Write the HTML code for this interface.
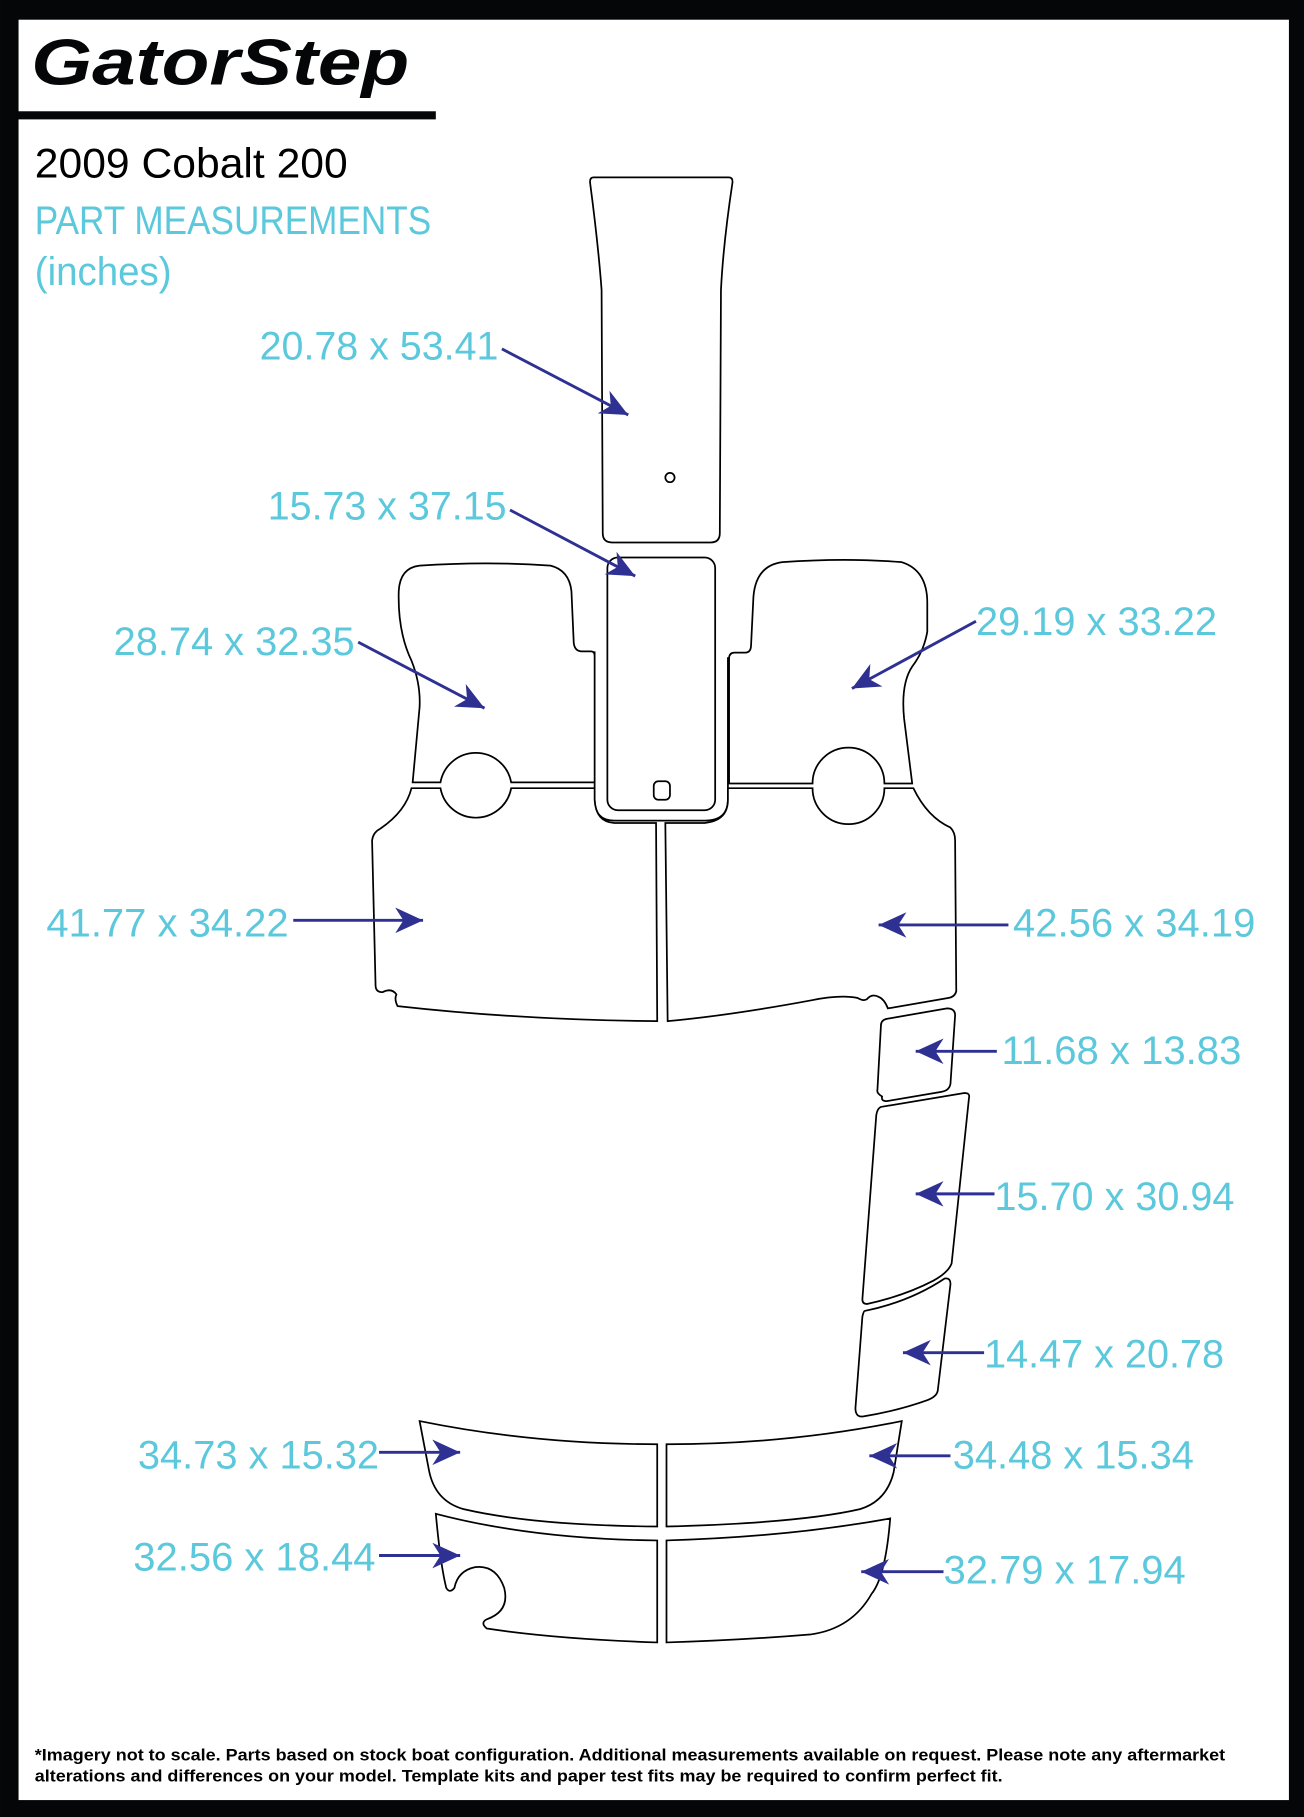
<!DOCTYPE html>
<html><head><meta charset="utf-8"><style>
html,body{margin:0;padding:0;background:#fff}
svg{display:block}
.p{fill:#fff;stroke:#000;stroke-width:1.5}
.t{font-family:"Liberation Sans",sans-serif;fill:#5bc8dc;font-size:34px}
.a{stroke:#2e3192;stroke-width:2.5;fill:none}
</style></head><body>
<svg width="1304" height="1817" viewBox="0 0 1125 1567.6" xmlns="http://www.w3.org/2000/svg">
<defs><marker id="h" markerUnits="userSpaceOnUse" markerWidth="26" markerHeight="22" refX="24" refY="11" orient="auto"><path d="M0,0 L24,11 L0,22 L7,11 z" fill="#2e3192"/></marker></defs>
<rect x="0" y="0" width="1125" height="1567.6" fill="#050607"/>
<rect x="16" y="17" width="1096" height="1536" fill="#fff"/>
<rect x="14" y="96" width="362" height="7" fill="#050607"/>
<text x="27" y="73" font-family="Liberation Sans,sans-serif" font-weight="bold" font-style="italic" font-size="56" textLength="326" lengthAdjust="spacingAndGlyphs" fill="#050607">GatorStep</text>
<text x="30" y="153" font-family="Liberation Sans,sans-serif" font-size="36" fill="#000" textLength="270" lengthAdjust="spacingAndGlyphs">2009 Cobalt 200</text>
<text x="30" y="202" class="t" textLength="342" lengthAdjust="spacingAndGlyphs">PART MEASUREMENTS</text>
<text x="30" y="246" class="t" textLength="118" lengthAdjust="spacingAndGlyphs">(inches)</text>

<!-- parts -->
<path class="p" d="M512,153 L629,153 Q632,153 632,157 Q624,210 622,250 L621,460 Q621,468 613,468 L528,468 Q520,468 520,460 L519,250 Q516,210 509,157 Q509,153 512,153 z"/>
<circle cx="578" cy="412" r="4" fill="none" stroke="#000" stroke-width="1.5"/>
<path class="p" d="M513,562 L513,690 Q513,708 530,708 L608,708 Q628,708 628,690 L628,567"/>
<rect class="p" x="524" y="481" width="93" height="218" rx="9"/>
<rect x="564" y="674" width="14" height="16" rx="4" fill="none" stroke="#000" stroke-width="1.5"/>
<path class="p" d="M356,675 L362,610 Q363,590 355,570 Q343,545 344,510 Q345,490 362,488 Q420,484 475,488 Q491,492 493,510 L495,555 Q496,562 502,562 L510,562 Q513,562 513,566 L513,675 L441,675 A31,31 0 0 0 380,675 z"/>
<path class="p" d="M629,676 L629,568 Q629,563 634,563 L643,563 Q648,563 648,556 L650,515 Q652,488 675,485 Q730,481 778,485 Q800,492 800,520 L800,545 Q797,562 787,575 Q777,590 780,620 L787,676 L763,676 A31,31 0 0 0 701,676 z"/>
<path class="p" d="M355,680 L380,680 A31,31 0 0 0 441,680 L513,680 L513,690 Q514,709 530,710 L566,710 L567,881 Q450,880 343,868 Q340,862 342,858 Q338,852 330,856 Q324,856 324,850 L321,725 Q322,718 328,715 Q350,700 355,680 z"/>
<path class="p" d="M574,710 L608,710 Q628,708 628,690 L628,680 L701,680 A31,31 0 0 0 763,680 L788,680 Q800,705 820,714 Q824,718 824,725 L825,855 Q824,860 818,861 L766,870 Q763,862 758,860 Q752,857 748,862 Q745,864 740,861 Q725,858 700,863 Q630,876 576,881 z"/>
<path class="p" d="M765,879 L817,870 Q824,870 824,876 L820,935 Q819,941 812,942 L765,950 Q760,950 761,946 Q756,943 757,940 L760,885 Q760,880 765,879 z"/>
<path class="p" d="M760,955 L832,943 Q837,943 836,947 L821,1090 Q818,1098 805,1105 Q780,1118 748,1125 Q744,1125 744,1121 L756,962 Q757,956 760,955 z"/>
<path class="p" d="M746,1131 Q785,1123 815,1103 Q820,1102 820,1108 L809,1200 Q808,1205 800,1208 Q775,1217 745,1222 Q738,1223 738,1215 L744,1136 Q745,1131 746,1131 z"/>
<path class="p" d="M362,1226 Q460,1246 567,1246 L567,1317 Q460,1316 400,1302 Q375,1295 370,1268 z"/>
<path class="p" d="M575,1246 Q680,1246 778,1226 L771,1270 Q765,1295 742,1302 Q690,1314 575,1317 z"/>
<path class="p" d="M376,1306 Q460,1328 567,1329 L567,1417 Q480,1414 420,1405 Q414,1400 420,1397 Q440,1390 435,1370 Q428,1350 410,1352 Q395,1355 392,1370 Q388,1375 385,1370 Q380,1350 376,1306 z"/>
<path class="p" d="M575,1329 Q680,1326 768,1310 Q764,1360 752,1375 Q735,1405 700,1410 Q640,1415 575,1417 z"/>

<!-- labels & arrows -->
<text class="t" x="430" y="310" text-anchor="end" textLength="206" lengthAdjust="spacingAndGlyphs">20.78 x 53.41</text>
<line class="a" x1="433" y1="301" x2="542" y2="358" marker-end="url(#h)"/>
<text class="t" x="437" y="448" text-anchor="end" textLength="206" lengthAdjust="spacingAndGlyphs">15.73 x 37.15</text>
<line class="a" x1="440" y1="440" x2="548" y2="497" marker-end="url(#h)"/>
<text class="t" x="306" y="565" text-anchor="end" textLength="208" lengthAdjust="spacingAndGlyphs">28.74 x 32.35</text>
<line class="a" x1="309" y1="554" x2="418" y2="611" marker-end="url(#h)"/>
<text class="t" x="842" y="548" textLength="208" lengthAdjust="spacingAndGlyphs">29.19 x 33.22</text>
<line class="a" x1="842" y1="536" x2="735" y2="594" marker-end="url(#h)"/>
<text class="t" x="40" y="808" textLength="209" lengthAdjust="spacingAndGlyphs">41.77 x 34.22</text>
<line class="a" x1="253" y1="794" x2="365" y2="794" marker-end="url(#h)"/>
<text class="t" x="874" y="808" textLength="209" lengthAdjust="spacingAndGlyphs">42.56 x 34.19</text>
<line class="a" x1="870" y1="798" x2="758" y2="798" marker-end="url(#h)"/>
<text class="t" x="864" y="918" textLength="207" lengthAdjust="spacingAndGlyphs">11.68 x 13.83</text>
<line class="a" x1="860" y1="907" x2="790" y2="907" marker-end="url(#h)"/>
<text class="t" x="858" y="1044" textLength="207" lengthAdjust="spacingAndGlyphs">15.70 x 30.94</text>
<line class="a" x1="858" y1="1030" x2="790" y2="1030" marker-end="url(#h)"/>
<text class="t" x="849" y="1180" textLength="207" lengthAdjust="spacingAndGlyphs">14.47 x 20.78</text>
<line class="a" x1="849" y1="1167" x2="779" y2="1167" marker-end="url(#h)"/>
<text class="t" x="327" y="1267" text-anchor="end" textLength="208" lengthAdjust="spacingAndGlyphs">34.73 x 15.32</text>
<line class="a" x1="327" y1="1253" x2="397" y2="1253" marker-end="url(#h)"/>
<text class="t" x="822" y="1267" textLength="208" lengthAdjust="spacingAndGlyphs">34.48 x 15.34</text>
<line class="a" x1="820" y1="1256" x2="750" y2="1256" marker-end="url(#h)"/>
<text class="t" x="324" y="1355" text-anchor="end" textLength="209" lengthAdjust="spacingAndGlyphs">32.56 x 18.44</text>
<line class="a" x1="327" y1="1342" x2="397" y2="1342" marker-end="url(#h)"/>
<text class="t" x="814" y="1366" textLength="209" lengthAdjust="spacingAndGlyphs">32.79 x 17.94</text>
<line class="a" x1="814" y1="1356" x2="743" y2="1356" marker-end="url(#h)"/>

<text x="30" y="1519" font-family="Liberation Sans,sans-serif" font-weight="bold" font-size="14" fill="#000" textLength="1027" lengthAdjust="spacingAndGlyphs">*Imagery not to scale. Parts based on stock boat configuration. Additional measurements available on request. Please note any aftermarket</text>
<text x="30" y="1537" font-family="Liberation Sans,sans-serif" font-weight="bold" font-size="14" fill="#000" textLength="835" lengthAdjust="spacingAndGlyphs">alterations and differences on your model. Template kits and paper test fits may be required to confirm perfect fit.</text>
</svg>
</body></html>
